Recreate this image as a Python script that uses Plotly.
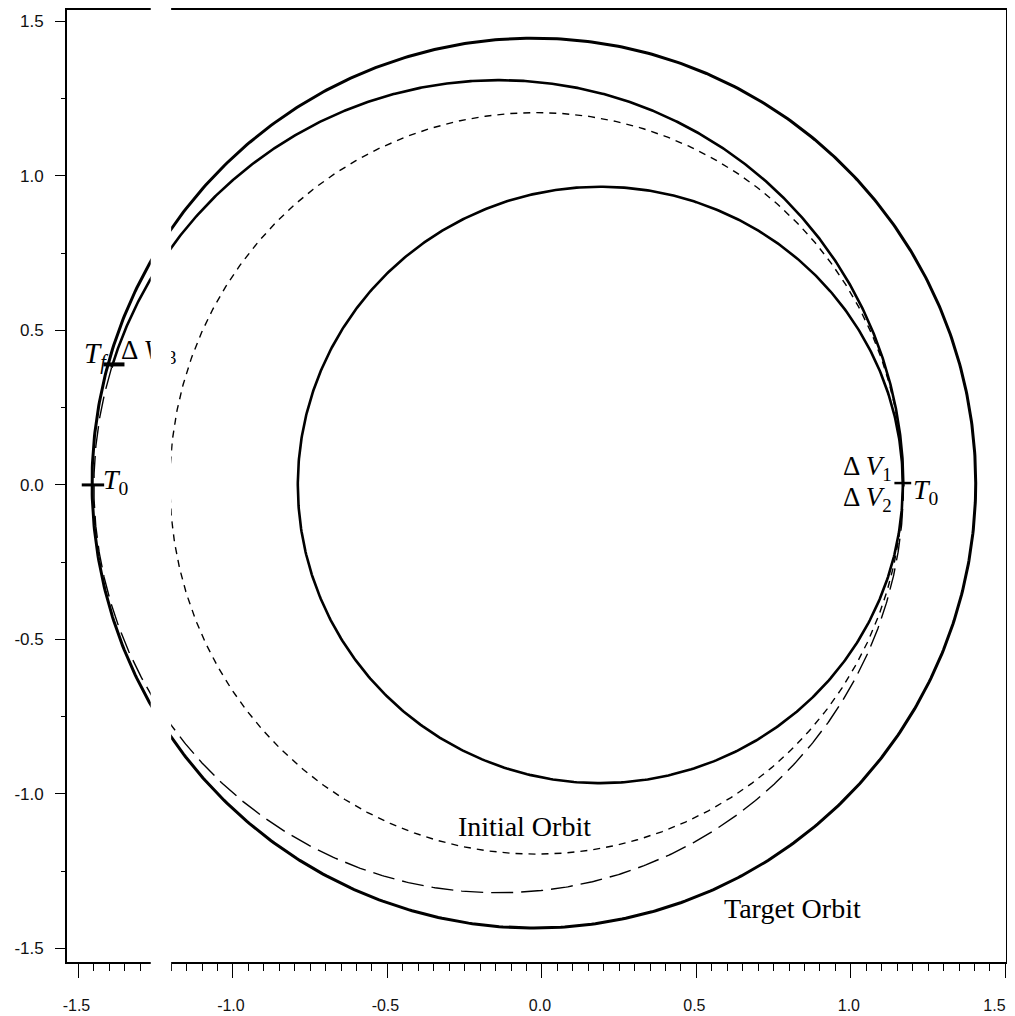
import numpy as np
import plotly.graph_objects as go

# ---- data (data units) ----
orbit_names = ["Target Orbit", "Transfer arc", "Transfer (continued)", "Inner ellipse", "Initial Orbit"]
orbit_cx = [-0.026, -0.140, -0.140, 0.189, -0.018]
orbit_cy = [0.006, -0.005, -0.005, 0.0, 0.005]
orbit_ax = [1.430, 1.310, 1.310, 0.979, 1.186]
orbit_by = [1.440, 1.315, 1.315, 0.965, 1.200]
arc_start_deg = [0, 0, 163, 0, 0]
arc_end_deg = [360, 163, 360, 360, 360]

event_names = ["T0 target", "Tf", "T0 chaser"]
event_x = [-1.453, -1.385, 1.168]
event_y = [0.0, 0.39, 0.006]

x_tick_vals = [-1.5, -1.0, -0.5, 0.0, 0.5, 1.0, 1.5]
x_tick_text = ["-1.5", "-1.0", "-0.5", "0.0", "0.5", "1.0", "1.5\u2007\u2007"]
y_tick_vals = [-1.5, -1.0, -0.5, 0.0, 0.5, 1.0, 1.5]
y_tick_text = ["-1.5", "-1.0", "-0.5", "0.0", "0.5", "1.0", "1.5"]
x_minor_step = 0.05
y_minor_step = 0.25

# ---- styles ----
orbit_width = [3.0, 2.6, 1.4, 2.6, 1.4]
orbit_dash = ["solid", "solid", "22px,8px", "solid", "7px,6px"]
event_size = [16, 15, 12]
event_lw = [3, 4, 2.5]

XR = [-1.537, 1.502]
YR = [-1.544, 1.537]

x_minor = [round(v, 2) for v in np.arange(-1.5, 1.5001, x_minor_step) if round(v, 2) not in x_tick_vals]
y_minor = [round(v, 2) for v in np.arange(-1.5, 1.5001, y_minor_step) if round(v, 2) not in y_tick_vals]

fig = go.Figure()
for i, name in enumerate(orbit_names):
    th = np.radians(np.linspace(arc_start_deg[i], arc_end_deg[i], 721))
    fig.add_trace(go.Scatter(
        x=orbit_cx[i] + orbit_ax[i] * np.cos(th),
        y=orbit_cy[i] + orbit_by[i] * np.sin(th),
        mode="lines", name=name,
        line=dict(color="black", width=orbit_width[i], dash=orbit_dash[i]),
        hoverinfo="skip", showlegend=False))

for i, name in enumerate(event_names):
    fig.add_trace(go.Scatter(
        x=[event_x[i]], y=[event_y[i]], mode="markers", name=name,
        marker=dict(symbol="line-ew", size=event_size[i],
                    line=dict(color="black", width=event_lw[i])),
        showlegend=False, hoverinfo="skip"))

serif = "Liberation Serif"
# label partly hidden by the blank strip (drawn as trace text so the strip masks it)
fig.add_trace(go.Scatter(
    x=[-1.362], y=[0.43], mode="text",
    text=["\u0394 <i>V</i> <sub>3</sub>"], textposition="middle right",
    textfont=dict(family=serif, size=27, color="black"),
    showlegend=False, hoverinfo="skip"))

ann = [
    dict(x=-1.398, y=0.42, text="<i>T<sub>f</sub></i>", xanchor="right", yanchor="middle", size=29),
    dict(x=-1.427, y=0.01, text="<i>T</i><sub>0</sub>", xanchor="left", yanchor="middle", size=28),
    dict(x=1.139, y=0.055, text="\u0394 <i>V</i><sub>1</sub>", xanchor="right", yanchor="middle", size=27),
    dict(x=1.139, y=-0.045, text="\u0394 <i>V</i><sub>2</sub>", xanchor="right", yanchor="middle", size=27),
    dict(x=1.194, y=-0.02, text="<i>T</i><sub>0</sub>", xanchor="left", yanchor="middle", size=28),
    dict(x=-0.055, y=-1.105, text="Initial Orbit", xanchor="center", yanchor="middle", size=28),
    dict(x=0.812, y=-1.37, text="Target Orbit", xanchor="center", yanchor="middle", size=28),
]
for a in ann:
    fig.add_annotation(x=a["x"], y=a["y"], xref="x", yref="y", text=a["text"],
                       showarrow=False, xanchor=a["xanchor"], yanchor=a["yanchor"],
                       font=dict(family=serif, size=a["size"], color="black"))

# blank vertical strip present in the scanned original
fig.add_shape(type="rect", xref="x", yref="paper", x0=-1.266, x1=-1.2,
              y0=-0.06, y1=1.01, fillcolor="white", line=dict(width=0), layer="above")

xtickfont = dict(family="Liberation Sans", size=16, color="#111")
ytickfont = dict(family="Liberation Sans", size=17, color="#111")
fig.update_layout(
    width=1007, height=1008,
    margin=dict(l=59, r=9, t=2, b=54, autoexpand=False),
    paper_bgcolor="white", plot_bgcolor="white",
    xaxis=dict(range=XR, showgrid=False, zeroline=False, showline=True, mirror=True,
               automargin=False, ticklabeloverflow="allow", ticklabelshift=-2,
               linecolor="black", linewidth=1.8, ticks="outside", ticklen=14, tickwidth=1.3,
               tickcolor="black", tickmode="array", tickvals=x_tick_vals, ticktext=x_tick_text,
               tickfont=xtickfont, ticklabelstandoff=14,
               minor=dict(tickmode="array", tickvals=x_minor, ticks="outside",
                          ticklen=7, tickwidth=1, tickcolor="black", showgrid=False)),
    yaxis=dict(range=YR, showgrid=False, zeroline=False, showline=True, mirror=True,
               automargin=False,
               linecolor="black", linewidth=1.8, ticks="outside", ticklen=10, tickwidth=1.3,
               tickcolor="black", tickmode="array", tickvals=y_tick_vals, ticktext=y_tick_text,
               tickfont=ytickfont, ticklabelstandoff=8,
               minor=dict(tickmode="array", tickvals=y_minor, ticks="outside",
                          ticklen=4, tickwidth=1, tickcolor="black", showgrid=False)),
)

fig.write_html("out.html")
